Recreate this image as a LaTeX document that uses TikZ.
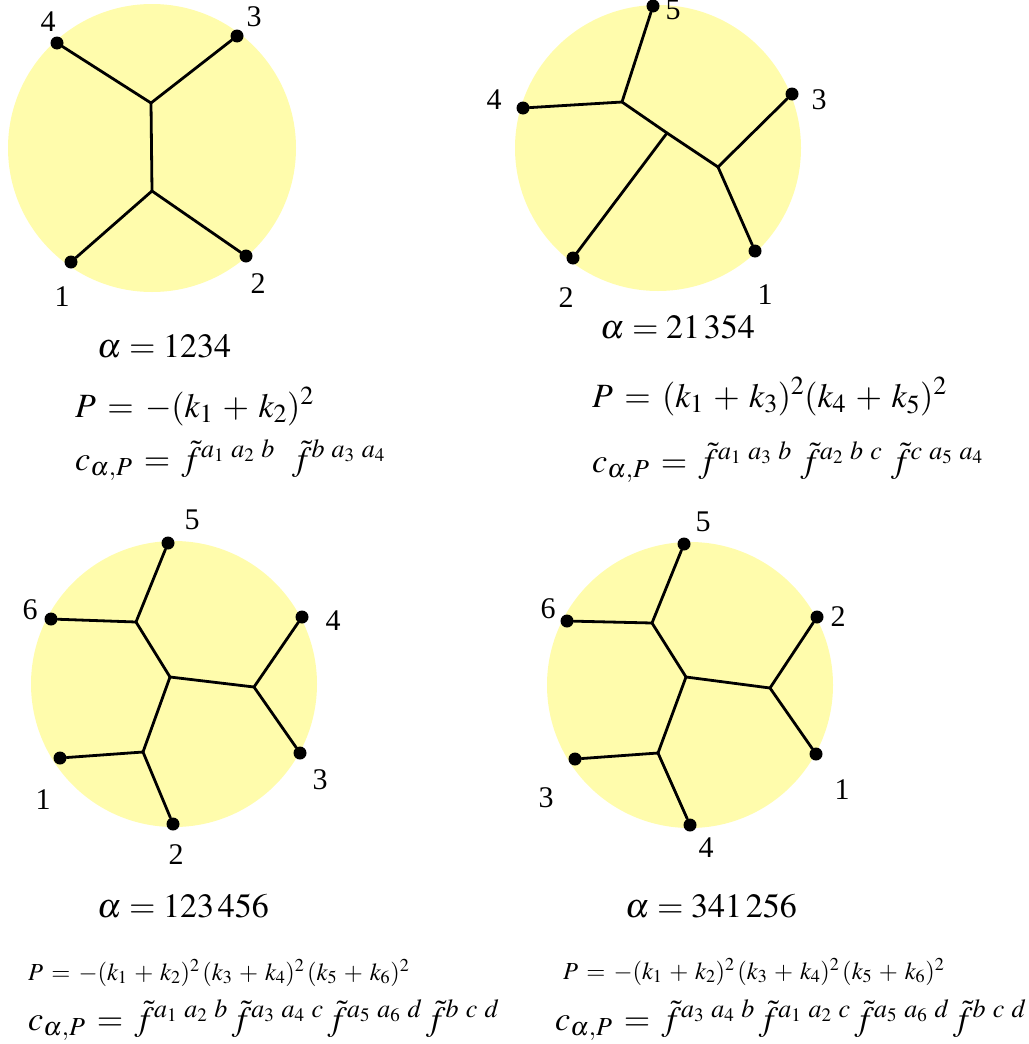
\documentclass[tikz,border=0pt]{standalone}
\usepackage{mathptmx}
\usepackage{fontspec}
\setmainfont{Liberation Serif}
\usetikzlibrary{positioning}
\definecolor{blobyellow}{RGB}{255,252,172}
\newcommand{\widemath}{\thickmuskip=6mu\relax\medmuskip=5mu\relax}
\DeclareMathSizes{34}{34}{26}{19}

\begin{document}
\begin{tikzpicture}[x=1pt, y=-1pt,
      blob/.style={fill=blobyellow, draw=none},
      leg/.style={circle, fill=black, inner sep=0pt, minimum size=13pt},
      prop/.style={line width=2.8pt, line cap=round},
      lab/.style={font=\fontsize{30}{34}\selectfont, inner sep=0pt},
      alphaline/.style={font=\fontsize{34}{40}\selectfont, inner sep=0pt, anchor=base west},
      pline/.style={font=\fontsize{34}{40}\selectfont\widemath, inner sep=0pt, anchor=base west},
      psmall/.style={font=\fontsize{24.5}{30}\selectfont\widemath, inner sep=0pt, anchor=base west},
      cline/.style={font=\fontsize{34}{40}\selectfont\widemath, inner sep=0pt, anchor=base west}
    ]
    \useasboundingbox (0,0) rectangle (1028,1044);

    % four-point diagram
    \fill[blob] (152,148) circle (144);
    \node[leg] (A1) at (71,262) {};
    \node[leg] (A2) at (246,256) {};
    \node[leg] (A3) at (237,36) {};
    \node[leg] (A4) at (57,43) {};
    \coordinate (Au) at (151,103);
    \coordinate (Ad) at (152,191);
    \draw[prop] (A4) -- (Au) -- (A3);
    \draw[prop] (Au) -- (Ad);
    \draw[prop] (A1) -- (Ad) -- (A2);
    \node[lab] at (62,297) {1};
    \node[lab] at (258,284) {2};
    \node[lab] at (254,17) {3};
    \node[lab] at (48,22) {4};
    \node[alphaline] (Aal) at (97,357) {$\alpha = 1234$};
    \node[pline] (AP) at (75,417) {$P = -(k_1 + k_2)^2$};
    \node[cline] (Ac) at (75,470) {$c_{\alpha,P} = \tilde{f}^{a_1\:a_2\:b}\enspace \tilde{f}^{b\:a_3\:a_4}$};

    % five-point diagram
    \fill[blob] (658,148) circle (143);
    \node[leg] (B1) at (755,251) {};
    \node[leg] (B2) at (573,258) {};
    \node[leg] (B3) at (792,94) {};
    \node[leg] (B4) at (523,108) {};
    \node[leg] (B5) at (653,6) {};
    \coordinate (Bu) at (622,102);
    \coordinate (Bm) at (667,133);
    \coordinate (Bd) at (718,167);
    \draw[prop] (B5) -- (Bu) -- (B4);
    \draw[prop] (Bu) -- (Bm) -- (Bd);
    \draw[prop] (Bm) -- (B2);
    \draw[prop] (B3) -- (Bd) -- (B1);
    \node[lab] at (765,295) {1};
    \node[lab] at (566,298) {2};
    \node[lab] at (819,100) {3};
    \node[lab] at (494,100) {4};
    \node[lab] at (673,10) {5};
    \node[alphaline] (Bal) at (600,338) {$\alpha = 21\,354$};
    \node[pline] (BP) at (592,407) {$P = (k_1 + k_3)^2(k_4 + k_5)^2$};
    \node[cline] (Bc) at (592,472) {$c_{\alpha,P} = \tilde{f}^{a_1\:a_3\:b}\ \tilde{f}^{a_2\:b\:c}\ \tilde{f}^{c\:a_5\:a_4}$};

    % six-point diagram, ordering 123456
    \fill[blob] (174,684) circle (143);
    \node[leg] (C1) at (60,758) {};
    \node[leg] (C2) at (173,824) {};
    \node[leg] (C3) at (300,753) {};
    \node[leg] (C4) at (302,617) {};
    \node[leg] (C5) at (168,543) {};
    \node[leg] (C6) at (51,619) {};
    \coordinate (Ca) at (136,622);
    \coordinate (Cc) at (170,677);
    \coordinate (Cb) at (254,687);
    \coordinate (Cd) at (143,752);
    \draw[prop] (C5) -- (Ca) -- (C6);
    \draw[prop] (Ca) -- (Cc) -- (Cb);
    \draw[prop] (Cc) -- (Cd);
    \draw[prop] (C4) -- (Cb) -- (C3);
    \draw[prop] (C1) -- (Cd) -- (C2);
    \node[lab] at (43,800) {1};
    \node[lab] at (176,855) {2};
    \node[lab] at (320,780) {3};
    \node[lab] at (333,621) {4};
    \node[lab] at (192,520) {5};
    \node[lab] at (30,610) {6};
    \node[alphaline] (Cal) at (97,917) {$\alpha = 123\,456$};
    \node[psmall] (CP) at (28,980) {$P = -(k_1 + k_2)^2\,(k_3 + k_4)^2\,(k_5 + k_6)^2$};
    \node[cline] (Cf) at (28,1030) {$c_{\alpha,P} = \tilde{f}^{a_1\:a_2\:b}\,\tilde{f}^{a_3\:a_4\:c}\,\tilde{f}^{a_5\:a_6\:d}\,\tilde{f}^{b\:c\:d}$};

    % six-point diagram, ordering 341256
    \fill[blob] (690,685) circle (143);
    \node[leg] (D1) at (816,754) {};
    \node[leg] (D2) at (817,617) {};
    \node[leg] (D3) at (575,759) {};
    \node[leg] (D4) at (690,825) {};
    \node[leg] (D5) at (684,544) {};
    \node[leg] (D6) at (567,621) {};
    \coordinate (Da) at (652,623);
    \coordinate (Dc) at (686,677);
    \coordinate (Db) at (770,688);
    \coordinate (Dd) at (658,753);
    \draw[prop] (D5) -- (Da) -- (D6);
    \draw[prop] (Da) -- (Dc) -- (Db);
    \draw[prop] (Dc) -- (Dd);
    \draw[prop] (D2) -- (Db) -- (D1);
    \draw[prop] (D3) -- (Dd) -- (D4);
    \node[lab] at (842,790) {1};
    \node[lab] at (838,617) {2};
    \node[lab] at (546,798) {3};
    \node[lab] at (706,848) {4};
    \node[lab] at (703,522) {5};
    \node[lab] at (548,609) {6};
    \node[alphaline] (Dal) at (625,917) {$\alpha = 341\,256$};
    \node[psmall] (DP) at (563,979) {$P = -(k_1 + k_2)^2\,(k_3 + k_4)^2\,(k_5 + k_6)^2$};
    \node[cline] (Df) at (555,1030) {$c_{\alpha,P} = \tilde{f}^{a_3\:a_4\:b}\,\tilde{f}^{a_1\:a_2\:c}\,\tilde{f}^{a_5\:a_6\:d}\,\tilde{f}^{b\:c\:d}$};
  \end{tikzpicture}
\end{document}
